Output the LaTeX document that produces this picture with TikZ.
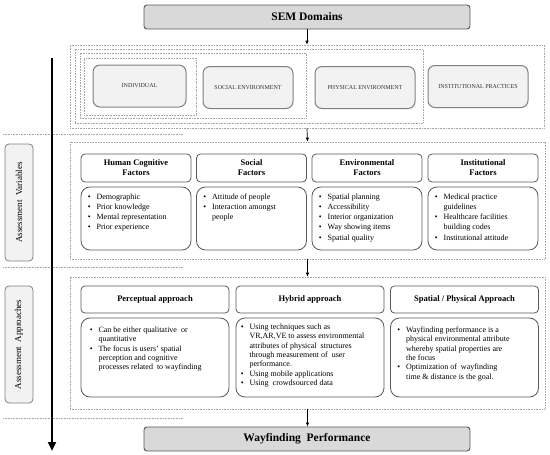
\documentclass[tikz,border=0pt]{standalone}
\usepackage{fontspec}
\setmainfont{Liberation Serif}
\usepackage{xcolor}
\usetikzlibrary{arrows.meta}
\definecolor{titlefill}{HTML}{D9D9D9}
\definecolor{domfill}{HTML}{F2F2F2}
\definecolor{edgegray}{HTML}{595959}
\definecolor{dotgray}{HTML}{A6A6A6}

\newcommand{\blist}[1]{\begin{tabular}{@{}l@{\hspace{6pt}}l@{}}#1\end{tabular}}

\begin{document}
\begin{tikzpicture}[x=1pt, y=-1pt,
    titlebox/.style={draw=edgegray, fill=titlefill, rounded corners=3pt, line width=0.9pt,
        minimum width=326pt, minimum height=24pt, font=\bfseries\fontsize{11.5}{13}\selectfont},
    domainbox/.style={draw=gray, fill=domfill, rounded corners=7pt, line width=1pt,
        minimum height=42pt, text=black!80, font=\fontsize{6}{7}\selectfont},
    headbox/.style={draw=edgegray, rounded corners=4pt, line width=0.8pt, align=center,
        font=\bfseries\fontsize{8.5}{10}\selectfont},
    bodybox/.style={draw=edgegray, rounded corners=9pt, line width=0.8pt},
    bodytext/.style={anchor=north west, align=left, inner sep=0pt},
    dotbox/.style={draw=dotgray, densely dotted, line width=0.6pt},
    sidebox/.style={draw=gray, fill=domfill, rounded corners=4pt, line width=0.8pt, rotate=90,
        minimum width=117pt, minimum height=28pt, font=\fontsize{9}{10}\selectfont},
    flow/.style={-{Latex[length=4pt,width=3.5pt]}, line width=0.7pt},
    sepline/.style={draw=dotgray, densely dotted, line width=0.6pt}]

    \useasboundingbox (0,0) rectangle (550,455);

    % title boxes
    \node[titlebox] (sem) at (307, 17) {SEM Domains};
    \node[titlebox] (wayf) at (307, 439) {Wayfinding\ \ Performance};

    % SEM domains, nested
    \node[dotbox, minimum width=474pt, minimum height=83pt] (domains) at (307, 86.5) {};
    \node[dotbox, minimum width=348pt, minimum height=74pt] (nestA) at (249, 86) {};
    \node[dotbox, minimum width=226pt, minimum height=65pt] (nestB) at (193, 85.5) {};
    \node[dotbox, minimum width=112pt, minimum height=57pt] (nestC) at (140, 86.5) {};

    \node[domainbox, minimum width=93pt] (indiv) at (139.5, 86) {INDIVIDUAL};
    \node[domainbox, minimum width=90pt] (social) at (248, 87.5) {SOCIAL ENVIRONMENT};
    \node[domainbox, minimum width=100pt] (physical) at (365, 87.5) {PHYSICAL ENVIRONMENT};
    \node[domainbox, minimum width=100pt] (instit) at (478, 86.5) {INSTITUTIONAL PRACTICES};

    % assessment variables
    \node[dotbox, minimum width=475pt, minimum height=117pt] (vars) at (307.5, 200.5) {};

    \node[headbox, minimum width=110pt, minimum height=28pt] (hcH) at (136, 168) {Human Cognitive\\Factors};
    \node[headbox, minimum width=110pt, minimum height=28pt] (socH) at (251.5, 168) {Social\\Factors};
    \node[headbox, minimum width=110pt, minimum height=28pt] (envH) at (367, 168) {Environmental\\Factors};
    \node[headbox, minimum width=110pt, minimum height=28pt] (insH) at (483, 168) {Institutional\\Factors};

    \node[bodybox, minimum width=110pt, minimum height=63pt] (hcB) at (136, 218.5) {};
    \node[bodybox, minimum width=110pt, minimum height=63pt] (socB) at (251.5, 218.5) {};
    \node[bodybox, minimum width=110pt, minimum height=63pt] (envB) at (367, 218.5) {};
    \node[bodybox, minimum width=110pt, minimum height=63pt] (insB) at (483, 218.5) {};

    \begin{scope}[every node/.append style={font=\fontsize{8}{10.3}\selectfont}]
    \node[bodytext] (hcT) at ([xshift=7pt, yshift=-5pt]hcB.north west)
        {\blist{\textbullet & Demographic\\ \textbullet & Prior knowledge\\
                \textbullet & Mental representation\\ \textbullet & Prior experience}};
    \node[bodytext] (socT) at ([xshift=7pt, yshift=-5pt]socB.north west)
        {\blist{\textbullet & Attitude of people\\ \textbullet & Interaction amongst\\ & people}};
    \node[bodytext] (envT) at ([xshift=7pt, yshift=-5pt]envB.north west)
        {\blist{\textbullet & Spatial planning\\ \textbullet & Accessibility\\
                \textbullet & Interior organization\\ \textbullet & Way showing items\\
                \textbullet & Spatial quality}};
    \node[bodytext] (insT) at ([xshift=7pt, yshift=-5pt]insB.north west)
        {\blist{\textbullet & Medical practice\\ & guidelines\\ \textbullet & Healthcare facilities\\
                & building codes\\ \textbullet & Institutional attitude}};
    \end{scope}

    % assessment approaches
    \node[dotbox, minimum width=475pt, minimum height=132pt] (appr) at (307.5, 343) {};

    \node[headbox, minimum width=148pt, minimum height=27pt] (percH) at (155, 299.5) {Perceptual approach};
    \node[headbox, minimum width=148pt, minimum height=27pt] (hybH) at (310, 299.5) {Hybrid approach};
    \node[headbox, minimum width=148pt, minimum height=27pt] (spaH) at (464.5, 299.5) {Spatial / Physical Approach};

    \node[bodybox, minimum width=148pt, minimum height=79pt] (percB) at (155, 357.5) {};
    \node[bodybox, minimum width=148pt, minimum height=79pt] (hybB) at (310, 357.5) {};
    \node[bodybox, minimum width=148pt, minimum height=79pt] (spaB) at (464.5, 357.5) {};

    \begin{scope}[every node/.append style={font=\fontsize{8}{9.4}\selectfont}]
    \node[bodytext] (percT) at ([xshift=9pt, yshift=-8pt]percB.north west)
        {\blist{\textbullet & Can be either qualitative\ \ or\\ & quantitative\\
                \textbullet & The focus is users' spatial\\ & perception and cognitive\\
                & processes related\ \ to wayfinding}};
    \node[bodytext] (hybT) at ([xshift=5pt, yshift=-5pt]hybB.north west)
        {\blist{\textbullet & Using techniques such as\\ & VR,AR,VE to assess environmental\\
                & attributes of physical\ \ structures\\ & through measurement of\ \ user\\
                & performance.\\ \textbullet & Using mobile applications\\
                \textbullet & Using\ \ crowdsourced data}};
    \node[bodytext] (spaT) at ([xshift=7pt, yshift=-8pt]spaB.north west)
        {\blist{\textbullet & Wayfinding performance is a\\ & physical environmental attribute\\
                & whereby spatial properties are\\ & the focus\\
                \textbullet & Optimization of\ \ wayfinding\\ & time \& distance is the goal.}};
    \end{scope}

    % side labels and separators
    \node[sidebox] (varsL) at (19, 202.5) {Assessment\ \ Variables};
    \node[sidebox] (apprL) at (19, 344.5) {Assessment\ \ Approaches};

    \draw[sepline] (3, 134) -- (183, 134);
    \draw[sepline] (3, 267) -- (183, 267);
    \draw[sepline] (3, 418) -- (183, 418);

    % long arrow
    \coordinate (axtop) at (52, 58);
    \coordinate (axbot) at (52, 451);
    \draw[line width=2.6pt, -{Triangle[length=9pt,width=8pt]}] (axtop) -- (axbot);

    % flow between blocks
    \draw[flow] (sem.south) -- (sem.south |- domains.north);
    \draw[flow] (domains.south) -- (vars.north);
    \draw[flow] (vars.south) -- (appr.north);
    \draw[flow] (appr.south) -- (appr.south |- wayf.north);
\end{tikzpicture}
\end{document}
